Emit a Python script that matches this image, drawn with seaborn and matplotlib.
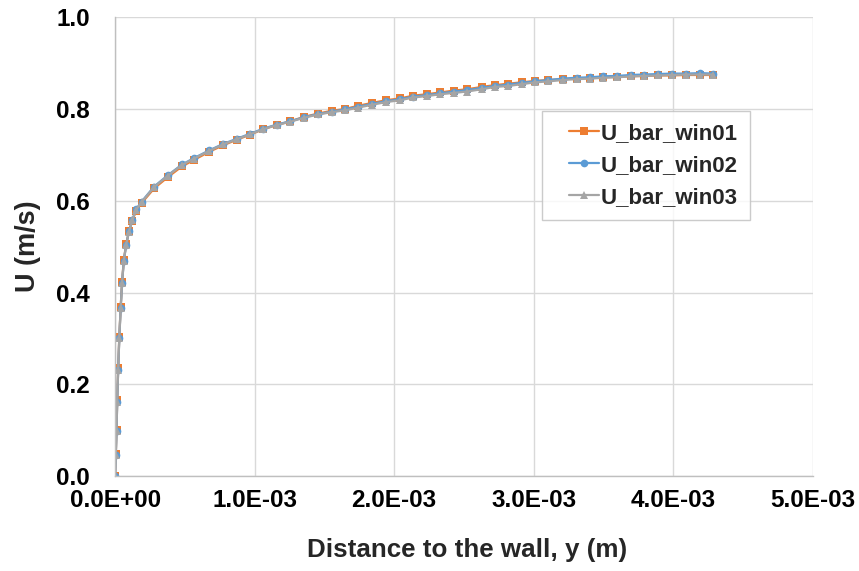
import numpy as np
import pandas as pd
import matplotlib
matplotlib.use("Agg")
import matplotlib.pyplot as plt
import seaborn as sns
from matplotlib.ticker import FuncFormatter, MultipleLocator
from matplotlib.lines import Line2D
from matplotlib.legend_handler import HandlerLine2D

# ---- data ----
y_dist = [0.0, 0.000005, 0.00001, 0.000015, 0.000022, 0.00003, 0.00004, 0.00005,
          0.000062, 0.000079, 0.0001, 0.000124, 0.00015, 0.00019, 0.00028, 0.00038,
          0.00048, 0.000566, 0.000676, 0.000776, 0.000872, 0.000968, 0.001063,
          0.001159, 0.001254, 0.001357, 0.001457, 0.001553, 0.001649, 0.001744,
          0.00184, 0.001943, 0.002043, 0.002138, 0.002234, 0.00233, 0.00243,
          0.002525, 0.002629, 0.002724, 0.002819, 0.002915, 0.003011, 0.003106,
          0.003209, 0.00331, 0.003405, 0.0035, 0.003601, 0.003697, 0.003792,
          0.003895, 0.003991, 0.004093, 0.004194, 0.004289]

u_win01 = [0.0, 0.048, 0.100, 0.165, 0.235, 0.303, 0.369, 0.424, 0.470, 0.505,
           0.534, 0.557, 0.578, 0.595, 0.627, 0.652, 0.675, 0.689, 0.707, 0.721,
           0.733, 0.744, 0.756, 0.765, 0.773, 0.783, 0.790, 0.796, 0.800, 0.807,
           0.813, 0.819, 0.823, 0.829, 0.832, 0.836, 0.840, 0.843, 0.848, 0.852,
           0.855, 0.858, 0.861, 0.863, 0.865, 0.866, 0.868, 0.869, 0.870, 0.871,
           0.872, 0.873, 0.873, 0.874, 0.874, 0.874]

u_win02 = [0.0, 0.047, 0.098, 0.162, 0.232, 0.301, 0.367, 0.421, 0.468, 0.504,
           0.534, 0.559, 0.581, 0.598, 0.631, 0.656, 0.679, 0.693, 0.710, 0.724,
           0.735, 0.746, 0.757, 0.766, 0.773, 0.782, 0.789, 0.794, 0.799, 0.805,
           0.811, 0.817, 0.821, 0.827, 0.830, 0.834, 0.838, 0.841, 0.846, 0.850,
           0.853, 0.857, 0.860, 0.863, 0.866, 0.868, 0.869, 0.871, 0.872, 0.874,
           0.875, 0.876, 0.877, 0.877, 0.878, 0.877]

u_win03 = [0.0, 0.047, 0.098, 0.162, 0.232, 0.301, 0.367, 0.421, 0.468, 0.504,
           0.533, 0.558, 0.580, 0.597, 0.630, 0.655, 0.678, 0.692, 0.709, 0.723,
           0.734, 0.745, 0.756, 0.765, 0.772, 0.781, 0.788, 0.793, 0.797, 0.803,
           0.809, 0.815, 0.819, 0.825, 0.828, 0.832, 0.835, 0.838, 0.843, 0.848,
           0.850, 0.854, 0.858, 0.860, 0.863, 0.865, 0.866, 0.868, 0.869, 0.871,
           0.872, 0.873, 0.874, 0.875, 0.875, 0.875]

series_names = ["U_bar_win01", "U_bar_win02", "U_bar_win03"]
series_values = [u_win01, u_win02, u_win03]

frames = []
for name, vals in zip(series_names, series_values):
    frames.append(pd.DataFrame({"y": y_dist, "U": vals, "series": name}))
df = pd.concat(frames, ignore_index=True)

# ---- style ----
sns.set_theme(style="white")
plt.rcParams["font.family"] = ["Liberation Sans", "DejaVu Sans"]
plt.rcParams["font.weight"] = "bold"

colors = {"U_bar_win01": "#ED7D31", "U_bar_win02": "#5B9BD5", "U_bar_win03": "#A5A5A5"}
markers = {"U_bar_win01": "s", "U_bar_win02": "o", "U_bar_win03": "^"}

fig = plt.figure(figsize=(8.59, 5.71), dpi=100)
ax = fig.add_axes([0.134, 0.166, 0.812, 0.804])

sns.lineplot(data=df, x="y", y="U", hue="series", style="series",
             palette=colors, markers=markers, dashes=False, sort=False,
             linewidth=1.6, markersize=5.5, markeredgewidth=0, ax=ax)

ax.set_xlim(0, 0.005)
ax.set_ylim(0, 1.0)
ax.xaxis.set_major_locator(MultipleLocator(0.001))
ax.yaxis.set_major_locator(MultipleLocator(0.2))
ax.xaxis.set_major_formatter(FuncFormatter(lambda v, p: f"{v:.1E}"))
ax.yaxis.set_major_formatter(FuncFormatter(lambda v, p: f"{v:.1f}"))

ax.grid(True, color="#D9D9D9", linewidth=1.0)
ax.set_axisbelow(True)
for s in ["top", "right"]:
    ax.spines[s].set_visible(False)
for s in ["left", "bottom"]:
    ax.spines[s].set_color("#BFBFBF")
    ax.spines[s].set_linewidth(1.0)

ax.tick_params(axis="both", length=0, labelsize=17.5, colors="black")
ax.tick_params(axis="x", pad=9)
ax.tick_params(axis="y", pad=18)
for lab in ax.get_xticklabels() + ax.get_yticklabels():
    lab.set_fontweight("bold")

ax.set_xlabel("Distance to the wall, y (m)", fontsize=18.7, fontweight="bold")
ax.set_ylabel("U (m/s)", fontsize=19.5, fontweight="bold")
ax.xaxis.set_label_coords(0.505, -0.135)
ax.yaxis.set_label_coords(-0.106, 0.5)

handles, labels = ax.get_legend_handles_labels()
if ax.get_legend() is not None:
    ax.get_legend().remove()
leg = ax.legend(handles, labels, title=None, loc="upper left",
                bbox_to_anchor=(0.612, 0.796), borderaxespad=0,
                frameon=True, fancybox=False, fontsize=16, handlelength=2.0,
                borderpad=0.55, labelspacing=0.5, handletextpad=0.1,
                handler_map={Line2D: HandlerLine2D(xpad=0.65)})
leg.get_frame().set_edgecolor("#BFBFBF")
leg.get_frame().set_linewidth(1.0)
for t in leg.get_texts():
    t.set_fontweight("bold")

fig.savefig("out.png", dpi=100)
